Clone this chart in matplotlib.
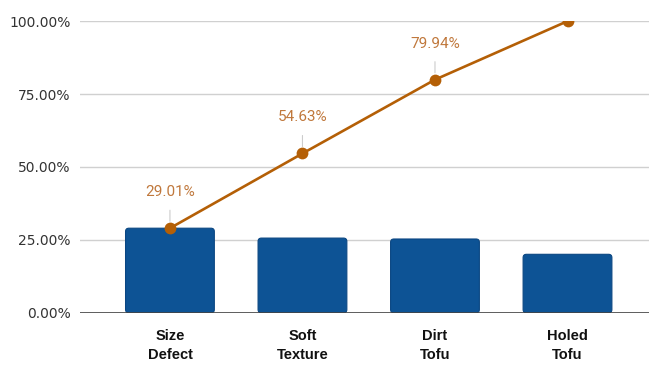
import matplotlib.pyplot as plt
from matplotlib.patches import FancyBboxPatch
from matplotlib.ticker import PercentFormatter

#===============================================================================
categories = ["Size\nDefect", "Soft\nTexture", "Dirt\nTofu", "Holed\nTofu"]
share = [29.01, 25.62, 25.31, 20.06]
cumulative = [29.01, 54.63, 79.94, 100.00]
point_labels = ["29.01%", "54.63%", "79.94%", ""]
y_ticks = [0, 25, 50, 75, 100]

BAR_COLOR = "#0d5395"
LINE_COLOR = "#b45f06"
LABEL_COLOR = "#c0783c"

#===============================================================================
fig = plt.figure(figsize=(6.49, 3.65), dpi=100)
ax = fig.add_axes([0.123, 0.143, 0.877, 0.799])

x = list(range(len(categories)))

ax.set_xlim(-0.68, 3.615)
ax.set_ylim(0, 100)

# bars with slightly rounded corners
bars = ax.bar(x, share, width=0.67, color="none", linewidth=0)
for bar in bars:
    ax.add_patch(FancyBboxPatch((bar.get_x(), bar.get_y()), bar.get_width(), bar.get_height(),
                                boxstyle="round,pad=0,rounding_size=0.025",
                                mutation_aspect=45, facecolor=BAR_COLOR,
                                edgecolor="#0a4682", linewidth=0.8, zorder=2))

# cumulative line; markers as a collection so the top one gets clipped at 100%
ax.plot(x, cumulative, color=LINE_COLOR, linewidth=1.9, zorder=3)
dots = ax.scatter(x, cumulative, s=72, color=LINE_COLOR, linewidths=0, zorder=3)
dots.set_clip_path(ax.patch)

for xi, yi, text in zip(x, cumulative, point_labels):
    if not text:
        continue
    ax.annotate(text, xy=(xi, yi), xytext=(0, 26), textcoords="offset points",
                ha="center", va="center", fontsize=11, color=LABEL_COLOR,
                family="Roboto",
                arrowprops=dict(arrowstyle="-", color="#cccccc", lw=0.8,
                                shrinkA=6, shrinkB=5))

#===============================================================================
ax.set_yticks(y_ticks)
ax.yaxis.set_major_formatter(PercentFormatter(decimals=2))
ax.set_xticks(x)
ax.set_xticklabels(categories, fontsize=10.5, fontweight="bold",
                   family="Liberation Sans", linespacing=1.45)

ax.grid(axis="y", color="#d0d0d0", linewidth=1, zorder=0)
ax.axhline(0, color="#444444", linewidth=1.2, zorder=4)
for spine in ax.spines.values():
    spine.set_visible(False)

ax.tick_params(axis="y", length=0, pad=6.5, labelsize=10, labelcolor="#333333")
ax.tick_params(axis="x", length=0, pad=12, labelcolor="#111111")

fig.savefig("out.png", dpi=100)
